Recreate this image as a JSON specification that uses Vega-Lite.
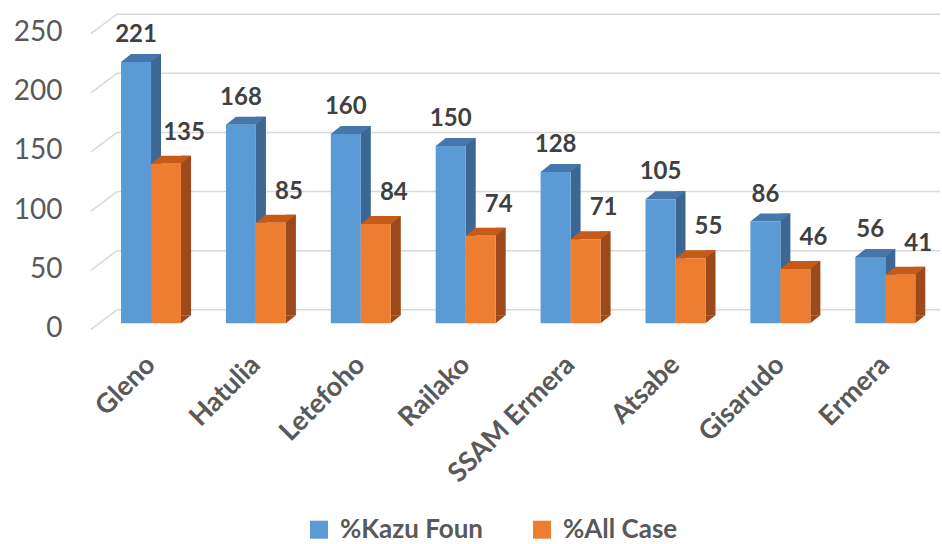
{
  "$schema": "https://vega.github.io/schema/vega-lite/v6.json",
  "width": 823,
  "height": 295.6,
  "autosize": {"type": "none"},
  "padding": {"left": 117, "top": 27.7, "right": 2, "bottom": 220},
  "background": "white",
  "config": {
    "view": {"stroke": null},
    "font": "Lato",
    "axisX": {"labelAngle": -45, "labelAlign": "right", "labelBaseline": "middle", "labelFont": "Lato", "labelFontSize": 27, "labelFontWeight": "bold", "labelColor": "#595959", "labelPadding": 37, "domain": false, "ticks": false, "grid": false, "title": null},
    "axisY": {"labelFont": "Lato", "labelFontSize": 28, "labelColor": "#595959", "labelPadding": 55, "labelOffset": 5, "domain": false, "ticks": false, "grid": false, "title": null},
    "legend": {"orient": "none", "legendX": 189, "legendY": 489, "direction": "horizontal", "symbolType": "square", "symbolSize": 324, "symbolStrokeWidth": 0, "labelFont": "Lato", "labelFontSize": 26, "labelFontWeight": "bold", "labelColor": "#595959", "columnPadding": 45, "labelOffset": 8, "title": null, "padding": 0}
  },
  "datasets": {
    "bars": [
      {"region": "Gleno", "series": "%Kazu Foun", "value": 221},
      {"region": "Hatulia", "series": "%Kazu Foun", "value": 168},
      {"region": "Letefoho", "series": "%Kazu Foun", "value": 160},
      {"region": "Railako", "series": "%Kazu Foun", "value": 150},
      {"region": "SSAM Ermera", "series": "%Kazu Foun", "value": 128},
      {"region": "Atsabe", "series": "%Kazu Foun", "value": 105},
      {"region": "Gisarudo", "series": "%Kazu Foun", "value": 86},
      {"region": "Ermera", "series": "%Kazu Foun", "value": 56},
      {"region": "Gleno", "series": "%All Case", "value": 135},
      {"region": "Hatulia", "series": "%All Case", "value": 85},
      {"region": "Letefoho", "series": "%All Case", "value": 84},
      {"region": "Railako", "series": "%All Case", "value": 74},
      {"region": "SSAM Ermera", "series": "%All Case", "value": 71},
      {"region": "Atsabe", "series": "%All Case", "value": 55},
      {"region": "Gisarudo", "series": "%All Case", "value": 46},
      {"region": "Ermera", "series": "%All Case", "value": 41}
    ],
    "ticks": [{"tick": 0}, {"tick": 50}, {"tick": 100}, {"tick": 150}, {"tick": 200}, {"tick": 250}]
  },
  "layer": [
    {
      "data": {"name": "ticks"},
      "mark": {"type": "rule", "color": "#d9d9d9", "strokeWidth": 1.5, "yOffset": -13.5},
      "encoding": {
        "y": {"field": "tick", "type": "quantitative", "scale": {"domain": [0, 250], "nice": false}, "axis": {"values": [0, 50, 100, 150, 200, 250]}}
      }
    },
    {
      "data": {"name": "ticks"},
      "mark": {"type": "rule", "color": "#d9d9d9", "strokeWidth": 1.5, "xOffset": -60, "x2Offset": -34, "yOffset": 6, "y2Offset": -13.5},
      "encoding": {
        "x": {"datum": "Gleno", "type": "nominal"},
        "x2": {"datum": "Gleno"},
        "y": {"field": "tick", "type": "quantitative", "scale": {"domain": [0, 250], "nice": false}, "axis": {"values": [0, 50, 100, 150, 200, 250]}},
        "y2": {"field": "tick"}
      }
    },
    {
      "data": {"name": "bars"},
      "transform": [{"filter": "datum.series === '%Kazu Foun'"}],
      "mark": {"type": "rule", "strokeWidth": 10, "color": "#3b6792", "xOffset": 5, "yOffset": -8, "y2Offset": -8},
      "encoding": {
        "x": {"field": "region", "type": "nominal", "sort": null, "scale": {"paddingInner": 0.428, "paddingOuter": 0.137, "align": 0.14}},
        "y": {"field": "value", "type": "quantitative", "scale": {"domain": [0, 250], "nice": false}, "axis": {"values": [0, 50, 100, 150, 200, 250]}},
        "y2": {"datum": 0}
      }
    },
    {
      "data": {"name": "bars"},
      "transform": [{"filter": "datum.series === '%All Case'"}],
      "mark": {"type": "rule", "strokeWidth": 10, "color": "#9c4a1c", "xOffset": 35, "yOffset": -8, "y2Offset": -8},
      "encoding": {
        "x": {"field": "region", "type": "nominal", "sort": null},
        "y": {"field": "value", "type": "quantitative"},
        "y2": {"datum": 0}
      }
    },
    {
      "data": {"name": "bars"},
      "mark": {"type": "point", "filled": true, "size": 2500, "opacity": 1, "strokeWidth": 0, "shape": "M0.6,0L0.6,-0.32L1,-0.32Z"},
      "encoding": {
        "x": {"field": "region", "type": "nominal", "sort": null},
        "xOffset": {"field": "series", "type": "nominal", "scale": {"domain": ["%Kazu Foun", "%All Case"], "paddingInner": 0, "paddingOuter": 0}},
        "y": {"datum": 0, "type": "quantitative"},
        "color": {"condition": {"test": "datum.series === '%Kazu Foun'", "value": "#3b6792"}, "value": "#9c4a1c"}
      }
    },
    {
      "data": {"name": "bars"},
      "mark": {"type": "point", "filled": true, "size": 2500, "opacity": 1, "strokeWidth": 0, "shape": "M-0.6,0L0.6,0L1,-0.32L-0.2,-0.32Z"},
      "encoding": {
        "x": {"field": "region", "type": "nominal", "sort": null},
        "xOffset": {"field": "series", "type": "nominal"},
        "y": {"field": "value", "type": "quantitative"},
        "color": {"condition": {"test": "datum.series === '%Kazu Foun'", "value": "#4677aa"}, "value": "#c65b17"}
      }
    },
    {
      "data": {"name": "bars"},
      "mark": {"type": "bar"},
      "encoding": {
        "x": {"field": "region", "type": "nominal", "sort": null},
        "xOffset": {"field": "series", "type": "nominal"},
        "y": {"field": "value", "type": "quantitative"},
        "color": {"field": "series", "type": "nominal", "scale": {"domain": ["%Kazu Foun", "%All Case"], "range": ["#5b9bd5", "#ed7d31"]}}
      }
    },
    {
      "data": {"name": "bars"},
      "transform": [{"filter": "datum.series === '%Kazu Foun'"}],
      "mark": {"type": "text", "font": "Lato", "fontSize": 24, "fontWeight": "bold", "color": "#404040", "baseline": "alphabetic", "dy": -20, "dx": 0},
      "encoding": {
        "x": {"field": "region", "type": "nominal", "sort": null},
        "xOffset": {"field": "series", "type": "nominal"},
        "y": {"field": "value", "type": "quantitative"},
        "text": {"field": "value", "type": "quantitative"}
      }
    },
    {
      "data": {"name": "bars"},
      "transform": [{"filter": "datum.series === '%All Case'"}],
      "mark": {"type": "text", "font": "Lato", "fontSize": 24, "fontWeight": "bold", "color": "#404040", "baseline": "alphabetic", "dy": -24, "dx": 18},
      "encoding": {
        "x": {"field": "region", "type": "nominal", "sort": null},
        "xOffset": {"field": "series", "type": "nominal"},
        "y": {"field": "value", "type": "quantitative"},
        "text": {"field": "value", "type": "quantitative"}
      }
    }
  ]
}
